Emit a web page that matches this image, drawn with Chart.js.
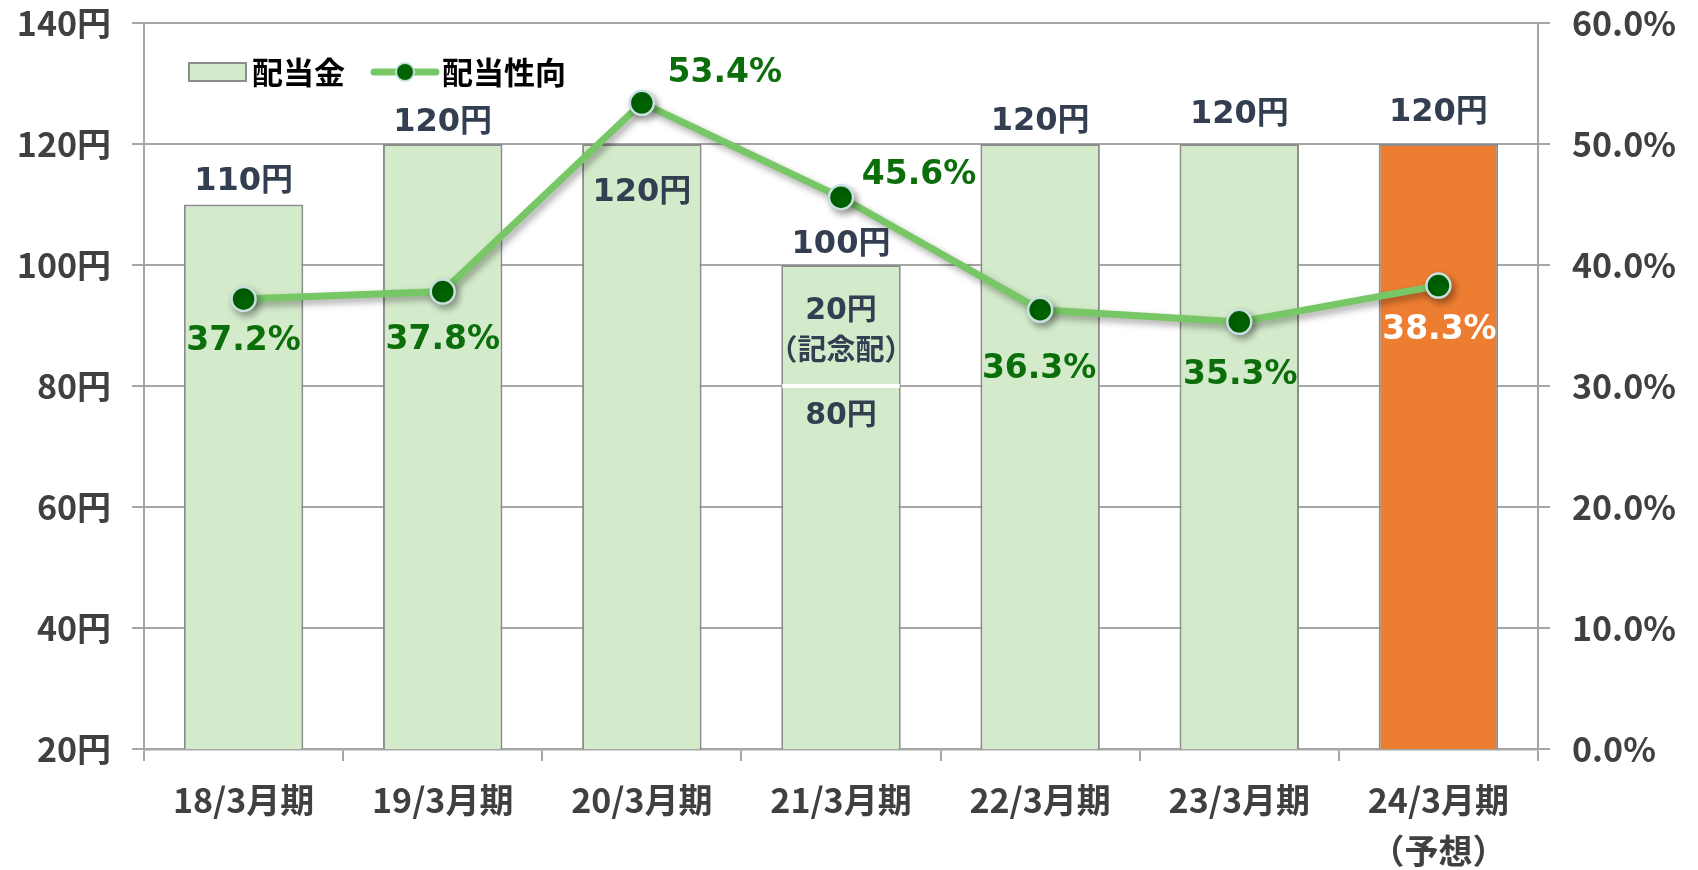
<!DOCTYPE html>
<html>
<head>
  <title>配当金・配当性向</title>
  <meta charset="UTF-8">
  <script src="https://cdn.jsdelivr.net/npm/chart.js"></script>
  <style>
    body {
      margin: 0;
      padding: 0;
      background-color: white;
    }
    .chart-container {
      width: 1698px;
      height: 870px;
    }
  </style>
</head>
<body>
  <div class="chart-container">
    <canvas id="dividendChart"></canvas>
  </div>

  <script>
    // Data
    const periods = ['18/3月期', '19/3月期', '20/3月期', '21/3月期', '22/3月期', '23/3月期', ['24/3月期', '（予想）']];
    const ordinaryDividend = [110, 120, 120, 80, 120, 120, 120];
    const commemorativeDividend = [null, null, null, 20, null, null, null];
    const payoutRatio = [37.2, 37.8, 53.4, 45.6, 36.3, 35.3, 38.3];
    const yenTicks = [20, 40, 60, 80, 100, 120, 140];
    const ratioTicks = [0, 10, 20, 30, 40, 50, 60];

    // label placement tweaks (pixels, relative to bar top / point)
    const yenLabelDy = [-23, -21, 49, -20, -22, -29, -31];
    const ratioLabelDx = [0, 0, 83, 78, -1, 1, 1];
    const ratioLabelDy = [43, 49, -29, -22, 60, 54, 45];

    const GREEN_FILL = '#d4ebcb';
    const ORANGE = '#ed7d31';
    const BAR_EDGE = '#8c8c8c';
    const GRID = '#a6a6a6';
    const LABEL_NAVY = '#333f50';
    const RATIO_GREEN = '#0b6e0b';
    const JP = '"Noto Sans CJK JP", "Noto Sans", sans-serif';
    const NUM = '"DejaVu Sans", "Noto Sans CJK JP", sans-serif';

    const lastIdx = ordinaryDividend.length - 1;
    const totals = ordinaryDividend.map((v, i) => v + (commemorativeDividend[i] || 0));

    // drop shadow under the payout ratio line
    const shadowPlugin = {
      id: 'lineShadow',
      beforeDatasetDraw(chart, args) {
        if (args.index !== 2) return;
        const ctx = chart.ctx;
        ctx.save();
        ctx.shadowColor = 'rgba(0,0,0,0.35)';
        ctx.shadowBlur = 7;
        ctx.shadowOffsetX = 3;
        ctx.shadowOffsetY = 4;
      },
      afterDatasetDraw(chart, args) {
        if (args.index !== 2) return;
        chart.ctx.restore();
      }
    };

    // value labels, commemorative split line and legend
    const labelPlugin = {
      id: 'valueLabels',
      afterDatasetsDraw(chart) {
        const ctx = chart.ctx;
        const yScale = chart.scales.y;
        const base = chart.getDatasetMeta(0).data;
        const extra = chart.getDatasetMeta(1).data;
        const pts = chart.getDatasetMeta(2).data;

        ctx.save();
        // white separator inside the 21/3 bar
        commemorativeDividend.forEach((v, i) => {
          if (!v) return;
          const bar = extra[i];
          const yy = yScale.getPixelForValue(ordinaryDividend[i]);
          ctx.fillStyle = 'white';
          ctx.fillRect(bar.x - bar.width / 2 + 1, yy - 2, bar.width - 2, 4);
        });

        ctx.textAlign = 'center';
        ctx.textBaseline = 'middle';

        // bar totals
        ctx.fillStyle = LABEL_NAVY;
        ctx.font = 'bold 32px ' + NUM;
        totals.forEach((t, i) => {
          const x = base[i].x;
          const top = yScale.getPixelForValue(t);
          ctx.fillText(t + '円', x, top + yenLabelDy[i]);
        });

        // breakdown of the commemorative year
        commemorativeDividend.forEach((v, i) => {
          if (!v) return;
          const x = base[i].x;
          const mid = (yScale.getPixelForValue(totals[i]) + yScale.getPixelForValue(ordinaryDividend[i])) / 2;
          ctx.font = 'bold 30px ' + NUM;
          ctx.fillText(v + '円', x, mid - 14);
          ctx.font = 'bold 29px ' + JP;
          ctx.fillText('（記念配）', x, mid + 23);
          ctx.font = 'bold 30px ' + NUM;
          ctx.fillText(ordinaryDividend[i] + '円', x, yScale.getPixelForValue(ordinaryDividend[i]) + 30);
        });

        // payout ratio labels
        ctx.font = 'bold 33px ' + NUM;
        payoutRatio.forEach((r, i) => {
          ctx.fillStyle = i === lastIdx ? 'white' : RATIO_GREEN;
          ctx.fillText(r.toFixed(1) + '%', pts[i].x + ratioLabelDx[i], pts[i].y + ratioLabelDy[i]);
        });

        // legend
        const ly = chart.chartArea.top + 49;
        const lx = chart.chartArea.left + 45;
        ctx.fillStyle = GREEN_FILL;
        ctx.strokeStyle = BAR_EDGE;
        ctx.lineWidth = 2;
        ctx.fillRect(lx, ly - 9, 57, 18);
        ctx.strokeRect(lx, ly - 9, 57, 18);
        ctx.textAlign = 'left';
        ctx.fillStyle = 'black';
        ctx.font = 'bold 31px ' + JP;
        ctx.fillText(chart.data.datasets[0].label, lx + 63, ly);

        const sx = lx + 185;
        ctx.strokeStyle = '#77c766';
        ctx.lineWidth = 7;
        ctx.lineCap = 'round';
        ctx.beginPath();
        ctx.moveTo(sx, ly);
        ctx.lineTo(sx + 62, ly);
        ctx.stroke();
        ctx.beginPath();
        ctx.arc(sx + 31, ly, 9, 0, Math.PI * 2);
        ctx.fillStyle = '#006400';
        ctx.fill();
        ctx.lineWidth = 2;
        ctx.strokeStyle = '#c8e0e0';
        ctx.stroke();
        ctx.fillStyle = 'black';
        ctx.fillText(chart.data.datasets[2].label, sx + 68, ly);
        ctx.restore();
      }
    };

    const barFill = (ctx) => ctx.dataIndex === lastIdx ? ORANGE : GREEN_FILL;

    // fixed axis widths; drop the automatic label padding at the ends
    const fitVertical = (width) => (scale) => {
      scale.width = width;
      scale.paddingTop = 0;
      scale.paddingBottom = 0;
    };

    const ctx = document.getElementById('dividendChart').getContext('2d');
    new Chart(ctx, {
      type: 'bar',
      data: {
        labels: periods,
        datasets: [
          {
            label: '配当金',
            data: ordinaryDividend,
            backgroundColor: barFill,
            borderColor: BAR_EDGE,
            borderWidth: (c) => commemorativeDividend[c.dataIndex] ? { left: 2, right: 2, top: 0, bottom: 0 } : 2,
            borderSkipped: 'start',
            yAxisID: 'y',
            stack: 'dividend',
            order: 2,
            categoryPercentage: 1,
            barPercentage: 0.6
          },
          {
            label: '記念配当',
            data: commemorativeDividend,
            backgroundColor: barFill,
            borderColor: BAR_EDGE,
            borderWidth: { left: 2, right: 2, top: 2, bottom: 0 },
            borderSkipped: 'start',
            yAxisID: 'y',
            stack: 'dividend',
            order: 2,
            categoryPercentage: 1,
            barPercentage: 0.6
          },
          {
            type: 'line',
            label: '配当性向',
            data: payoutRatio,
            yAxisID: 'y2',
            borderColor: '#77c766',
            borderWidth: 7,
            pointRadius: 12,
            pointBackgroundColor: '#006400',
            pointBorderColor: '#c8e0e0',
            pointBorderWidth: 2.5,
            tension: 0,
            order: 1,
            clip: false
          }
        ]
      },
      options: {
        responsive: true,
        maintainAspectRatio: false,
        animation: false,
        layout: {
          padding: { top: 23, left: 0, right: 0, bottom: 0 }
        },
        plugins: {
          legend: { display: false },
          tooltip: { enabled: false }
        },
        scales: {
          x: {
            stacked: true,
            offset: true,
            grid: {
              offset: true,
              drawOnChartArea: false,
              color: GRID,
              lineWidth: 2,
              tickLength: 12
            },
            border: { color: GRID, width: 2.5 },
            ticks: {
              color: '#404040',
              font: { family: JP, size: 34, weight: 'bold', lineHeight: 1.5 },
              padding: 14,
              maxRotation: 0
            },
            afterFit(scale) { scale.height = 121; }
          },
          y: {
            position: 'left',
            stacked: true,
            min: yenTicks[0],
            max: yenTicks[yenTicks.length - 1],
            afterBuildTicks(scale) { scale.ticks = yenTicks.map(v => ({ value: v })); },
            grid: { color: GRID, lineWidth: 2, tickLength: 12 },
            border: { color: GRID, width: 2 },
            ticks: {
              color: '#404040',
              font: { family: JP, size: 34, weight: 'bold', lineHeight: 1 },
              padding: 21,
              callback: (v) => v + '円'
            },
            afterFit: fitVertical(144)
          },
          y2: {
            position: 'right',
            min: ratioTicks[0],
            max: ratioTicks[ratioTicks.length - 1],
            afterBuildTicks(scale) { scale.ticks = ratioTicks.map(v => ({ value: v })); },
            grid: { drawOnChartArea: false, color: GRID, lineWidth: 2, tickLength: 12 },
            border: { color: GRID, width: 2 },
            ticks: {
              color: '#404040',
              font: { family: JP, size: 34, weight: 'bold', lineHeight: 1 },
              padding: 22,
              callback: (v) => v.toFixed(1) + '%'
            },
            afterFit: fitVertical(160)
          }
        }
      },
      plugins: [shadowPlugin, labelPlugin]
    });
  </script>
</body>
</html>
